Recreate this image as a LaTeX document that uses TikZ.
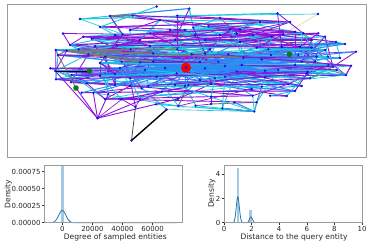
\documentclass[tikz,border=0pt]{standalone}
\usepackage{fontspec}
\setmainfont{DejaVu Sans}
\definecolor{evpurple}{HTML}{8E12DA}
\definecolor{evcyan}{HTML}{1CC9DA}
\definecolor{evblue}{HTML}{2A8CF5}
\definecolor{evgray}{HTML}{7A7A7A}
\definecolor{evbisque}{HTML}{F3DFC6}
\definecolor{ptblue}{HTML}{0A14F0}
\definecolor{ptgreen}{HTML}{0B7A12}
\definecolor{barblue}{HTML}{A6C9E1}
\definecolor{kdeblue}{HTML}{1F77B4}
\definecolor{spinegray}{HTML}{9C9C9C}
\def\ptlist{156.7/6.5, 189.3/8.5, 110/16, 132.7/15.5, 177.3/15.7, 80/19, 277.5/13.3, 318/14, 63/33.5, 356/51.7, 351/65.7, 50.3/68.3, 56/79.3, 97.5/118.2, 254.3/111.5, 135.5/107, 166.7/109.5, 58/55,
115/35, 122.7/34.3, 130/30, 150/33.3, 170/30, 83.3/36.7, 91.7/38.7, 70/45, 55.7/50, 66.7/50.7, 78.7/49.3, 116.7/45, 140/40, 175/40, 88.3/54.3, 105.3/56.7, 130.7/49.3, 153.3/53.3, 177.3/49.3, 121.7/61.7, 140/62.3, 153.3/61.7, 55.3/71, 100/76, 115/74, 130/78.3, 156.7/76.7, 176.7/73.3,
193.3/27.7, 208.3/26, 230/29.3, 240/29.3, 253.3/35, 271.7/36.7, 283.3/34.3, 295/31.7, 303.3/33.3, 318.3/33.3, 220/35, 236.7/33.3, 205/40, 195/35, 325/36.7, 311.7/40, 210/49.3, 228.3/54.3, 256.7/47.7, 268.3/49.3, 281.7/46.7, 300/46.7, 311.7/47.7, 325/50, 191.7/54.3, 205/53.3, 243.3/57.7, 261.7/59.3, 271/55, 298.3/55, 316.7/56.7, 328.3/65, 336.7/70, 307.7/71.7, 295/65, 278.3/70, 265/70.7, 236.7/71.7, 218.3/61.7, 205/68.3, 241.7/65, 315/61.7, 301.7/61.7,
71.7/75, 71/82.3, 86.7/83.3, 81.7/92.7, 93.3/92.7, 108.3/94, 105/99, 121.7/99.3, 140/99.3, 156/104.3, 161.7/91.7, 177.7/99, 178.3/106, 185/86, 175/85, 141.7/88.3, 115/85, 130/86, 148.3/86,
188.3/85, 195.7/105.7, 211/84, 211/96.7, 211/104, 222.3/108.3, 234.3/102.3, 251.7/89, 252.7/95.7, 256.7/102.3, 270/95.7, 265/77.3, 286.7/96, 288.3/84, 295/91, 301.7/86, 306.7/73.3, 310/78.3, 261.7/86.7, 215/78.3, 225/76.7, 200/80,
200/62, 225/66, 165/68, 145/70, 120/68, 100/63, 328/56.7, 333/66.7, 340/58, 345/44, 336/42, 346/75, 260/22, 220/18, 290/22, 160/20, 100/27, 240/42, 150/46, 95/46, 185/30}
\begin{document}
\begin{tikzpicture}[x=1pt,y=-1pt,
  frame/.style={draw=spinegray,line width=1pt},
  spine/.style={draw=spinegray,line width=0.9pt},
  tickmark/.style={draw=black!80,line width=0.5pt},
  ticklab/.style={font=\fontsize{7}{8}\selectfont,inner sep=0pt,text=black!85},
  axlab/.style={font=\fontsize{7.6}{9}\selectfont,inner sep=0pt,text=black!85},
  kde/.style={draw=kdeblue,line width=0.8pt},
  bar/.style={fill=barblue},
  edge/.style={line cap=round}]
\useasboundingbox (0,0) rectangle (371,247);
% ---------------- network panel ----------------
\draw[frame] (7.3,4.7) rectangle (366.7,157);
\foreach \x/\y [count=\i] in \ptlist {
  \coordinate (p\i) at (\x,\y);
  \expandafter\xdef\csname PX\i\endcsname{\x}
  \expandafter\xdef\csname PY\i\endcsname{\y}
  \xdef\NP{\i}
}
\coordinate (c) at (186,67.7);
\coordinate (g1) at (89.5,71);
\coordinate (g2) at (76,88);
\coordinate (g3) at (289.3,54.3);
\coordinate (tA) at (131.5,140.5);
\coordinate (tB) at (135.5,107);
\coordinate (tC) at (166.7,109.5);
\coordinate (hL) at (55.3,71);
\coordinate (hG) at (66.7,50.7);
\coordinate (hS) at (58,55);
\coordinate (hT) at (110,16);
\coordinate (hT2) at (132.7,15.5);
\pgfmathsetseed{4242}
% long, mostly horizontal edges
\foreach \k in {1,...,1300}{
  \pgfmathrandominteger{\a}{1}{\NP}
  \pgfmathrandominteger{\b}{1}{\NP}
  \ifnum\a=\b\else
  \edef\ya{\csname PY\a\endcsname}\edef\yb{\csname PY\b\endcsname}
  \pgfmathsetmacro{\dy}{abs(\ya-\yb)}
  \pgfmathsetmacro{\thr}{rnd*rnd*40}
  \pgfmathrandominteger{\cc}{0}{19}
  \pgfmathsetmacro{\lw}{0.6+0.6*rnd}
  \ifdim\dy pt<\thr pt
    \ifnum\cc<9 \def\ecol{evpurple}\else\ifnum\cc<16 \def\ecol{evcyan}\else\ifnum\cc<18 \def\ecol{evblue}\else\ifnum\cc<19 \def\ecol{evgray}\else\def\ecol{evbisque}\fi\fi\fi\fi
    \draw[edge,\ecol,line width=\lw pt] (p\a) -- (p\b);
  \fi
  \fi
}
% local edges
\foreach \i in {1,...,\NP}{
  \foreach \t in {1,...,6}{
    \pgfmathrandominteger{\b}{1}{\NP}
    \ifnum\i=\b\else
    \edef\xa{\csname PX\i\endcsname}\edef\ya{\csname PY\i\endcsname}
    \edef\xb{\csname PX\b\endcsname}\edef\yb{\csname PY\b\endcsname}
    \pgfmathsetmacro{\dd}{veclen(\xa-\xb,\ya-\yb)}
    \pgfmathrandominteger{\cc}{0}{9}
    \ifdim\dd pt<42pt
      \ifnum\cc<5 \def\ecol{evpurple}\else\def\ecol{evcyan}\fi
      \draw[edge,\ecol,line width=0.85pt] (p\i) -- (p\b);
    \fi
    \fi
  }
}
% fan from the query entity
\foreach \i in {1,...,\NP}{
  \edef\ya{\csname PY\i\endcsname}
  \pgfmathsetmacro{\dy}{abs(\ya-67.7)}
  \ifdim\dy pt<26pt
    \draw[edge,evblue,line width=1pt] (c) -- (p\i);
  \fi
}
% a few more edges on top
\foreach \k in {1,...,250}{
  \pgfmathrandominteger{\a}{1}{\NP}
  \pgfmathrandominteger{\b}{1}{\NP}
  \ifnum\a=\b\else
  \edef\ya{\csname PY\a\endcsname}\edef\yb{\csname PY\b\endcsname}
  \pgfmathsetmacro{\dy}{abs(\ya-\yb)}
  \pgfmathsetmacro{\thr}{rnd*rnd*30}
  \pgfmathrandominteger{\cc}{0}{9}
  \ifdim\dy pt<\thr pt
    \ifnum\cc<6 \def\ecol{evpurple}\else\def\ecol{evcyan}\fi
    \draw[edge,\ecol,line width=0.95pt] (p\a) -- (p\b);
  \fi
  \fi
}
% special edges
\foreach \q in {p37,p36,p35,p73,p40,p39}{\draw[edge,evgray,line width=1.3pt] (hG) -- (\q);}
\foreach \q in {p28,p27}{\draw[edge,evgray,line width=1pt] (hS) -- (\q);}
\draw[edge,evgray,line width=1.6pt] (hT) -- (hT2);
\draw[edge,evgray,line width=0.9pt] (hS) -- (g2);
\foreach \q in {g2,p94,p95,p100,p101,p41}{\draw[edge,evpurple,line width=0.9pt] (p14) -- (\q);}
\foreach \q in {p117,p118,p120,p110,p104}{\draw[edge,evcyan,line width=0.8pt] (p15) -- (\q);}
\draw[edge,black,line width=1.4pt] (tA) -- (tC);
\draw[edge,black!80,line width=0.7pt] (tA) -- (tB);
\draw[edge,black,line width=0.8pt] (hL) -- (g1);
% vertices
\foreach \i in {1,...,\NP}{\fill[ptblue] (p\i) circle (1.3);}
\fill[ptblue] (tA) circle (1.3);
\fill[red] (c) circle (5);
\fill[ptblue] (c) circle (1.5);
\foreach \g in {g1,g2,g3}{\fill[ptgreen] (\g) circle (2.8);}
% ---------------- left plot ----------------
\fill[bar] (60.8,166.3) rectangle (64.2,222.7);
\draw[kde] plot[domain=50.6:76,samples=80] (\x,{222.7-12.24*exp(-((\x-62.3)/3.6)^2/2)}) -- (176.4,222.7);
\draw[spine] (44.3,165) rectangle (182.7,222.7);
\foreach \yy/\lab [count=\j] in {222.7/0.00000,205.7/0.00025,188.7/0.00050,171.7/0.00075}{
  \draw[tickmark] (44.3,\yy) -- (41.8,\yy);
  \node[ticklab,anchor=east] (ly\j) at (40.8,\yy) {\lab};
}
\foreach \xx/\lab [count=\j] in {62.3/0,92.4/20000,122.5/40000,152.6/60000}{
  \draw[tickmark] (\xx,222.7) -- (\xx,225.2);
  \node[ticklab,anchor=north] (lx\j) at (\xx,226.2) {\lab};
}
\node[axlab,rotate=90] (ylabL) at (8.3,194) {Density};
\node[axlab] (xlabL) at (115.3,237) {Degree of sampled entities};
% ---------------- right plot ----------------
\fill[bar] (236.6,168.3) rectangle (239.0,222.7);
\fill[bar] (249.0,210.3) rectangle (251.7,222.7);
\draw[kde] plot[domain=231:256,samples=120] (\x,{222.7-25.7*exp(-((\x-237.8)/1.55)^2/2)-5.7*exp(-((\x-251)/1.5)^2/2)});
\draw[spine] (224,165) rectangle (362,222.7);
\foreach \yy/\lab [count=\j] in {222.7/0,198.5/2,174.3/4}{
  \draw[tickmark] (224,\yy) -- (221.5,\yy);
  \node[ticklab,anchor=east] (ry\j) at (220.5,\yy) {\lab};
}
\foreach \xx/\lab [count=\j] in {224/0,251.6/2,279.2/4,306.8/6,334.4/8,362/10}{
  \draw[tickmark] (\xx,222.7) -- (\xx,225.2);
  \node[ticklab,anchor=north] (rx\j) at (\xx,226.2) {\lab};
}
\node[axlab,rotate=90] (ylabR) at (211.7,193.5) {Density};
\node[axlab] (xlabR) at (294,237) {Distance to the query entity};
\end{tikzpicture}
\end{document}
